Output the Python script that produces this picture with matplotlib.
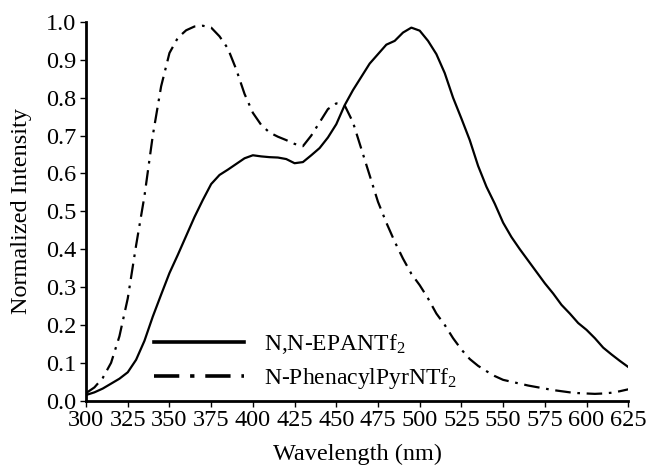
import matplotlib
matplotlib.use("Agg")
import matplotlib.pyplot as plt

plt.rcParams['font.family'] = ['Liberation Serif', 'DejaVu Serif']
plt.rcParams['mathtext.fontset'] = 'custom'
plt.rcParams['mathtext.rm'] = 'Liberation Serif'
plt.rcParams['mathtext.default'] = 'regular'

wavelength = [300, 305, 310, 315, 320, 325, 330, 335, 340, 345, 350, 355, 360, 365,
              370, 375, 380, 385, 390, 395, 400, 405, 410, 415, 420, 425, 430, 435,
              440, 445, 450, 455, 460, 465, 470, 475, 480, 485, 490, 495, 500, 505,
              510, 515, 520, 525, 530, 535, 540, 545, 550, 555, 560, 565, 570, 575,
              580, 585, 590, 595, 600, 605, 610, 615, 620, 625]

epantf2 = [0.015, 0.022, 0.032, 0.045, 0.058, 0.075, 0.108, 0.158, 0.222, 0.28,
           0.337, 0.385, 0.435, 0.485, 0.53, 0.572, 0.596, 0.61, 0.625, 0.64,
           0.648, 0.645, 0.643, 0.642, 0.638, 0.627, 0.63, 0.648, 0.667, 0.695,
           0.73, 0.78, 0.82, 0.855, 0.89, 0.915, 0.94, 0.95, 0.972, 0.985,
           0.977, 0.95, 0.915, 0.865, 0.8, 0.745, 0.688, 0.62, 0.565, 0.52,
           0.47, 0.432, 0.4, 0.37, 0.34, 0.31, 0.283, 0.253, 0.23, 0.205,
           0.187, 0.165, 0.14, 0.122, 0.105, 0.089]

phenacyl = [0.02, 0.035, 0.06, 0.1, 0.17, 0.27, 0.41, 0.54, 0.70, 0.83,
            0.918, 0.958, 0.978, 0.988, 0.99, 0.985, 0.962, 0.93, 0.875, 0.81,
            0.76, 0.728, 0.708, 0.697, 0.688, 0.678, 0.672, 0.7, 0.735, 0.77,
            0.785, 0.78, 0.735, 0.665, 0.595, 0.525, 0.47, 0.42, 0.375, 0.335,
            0.305, 0.27, 0.23, 0.2, 0.165, 0.135, 0.11, 0.092, 0.078, 0.065,
            0.055, 0.05, 0.045, 0.04, 0.036, 0.032, 0.028, 0.025, 0.022, 0.02,
            0.019, 0.018, 0.019, 0.021, 0.025, 0.03]

xticks = list(range(300, 626, 25))
yticks = [i / 10 for i in range(11)]

fig = plt.figure(figsize=(6.47, 4.67), dpi=100)
ax = fig.add_axes([0.133, 0.142, 0.838, 0.811])

ax.plot(wavelength, epantf2, color='black', lw=1.6, label=r'N,N-EPANTf$_2$')
ax.plot(wavelength, phenacyl, color='black', lw=1.6, linestyle=(0, (7, 3, 1.2, 3)),
        label=r'N-PhenacylPyrNTf$_2$')

ax.set_xlim(300, 625)
ax.set_ylim(0, 1.0)
ax.set_xticks(xticks)
ax.set_yticks(yticks)
ax.set_xticklabels([str(t) for t in xticks])
ax.set_yticklabels(['%.1f' % t for t in yticks])
ax.tick_params(labelsize=17.5, direction='out', length=4, width=1, pad=3)

for side in ['top', 'right']:
    ax.spines[side].set_visible(False)
for side in ['left', 'bottom']:
    ax.spines[side].set_linewidth(2)

ax.set_xlabel('Wavelength (nm)', fontsize=17.5, labelpad=9)
ax.set_ylabel('Normalized Intensity', fontsize=17.5, labelpad=10)

leg = ax.legend(loc='center left', bbox_to_anchor=(0.104, 0.103), frameon=False,
                borderpad=0, fontsize=17, handlelength=3.8, handletextpad=0.85,
                labelspacing=0.45)
for line in leg.get_lines():
    line.set_linewidth(2.6)

fig.savefig('out.png', dpi=100)
